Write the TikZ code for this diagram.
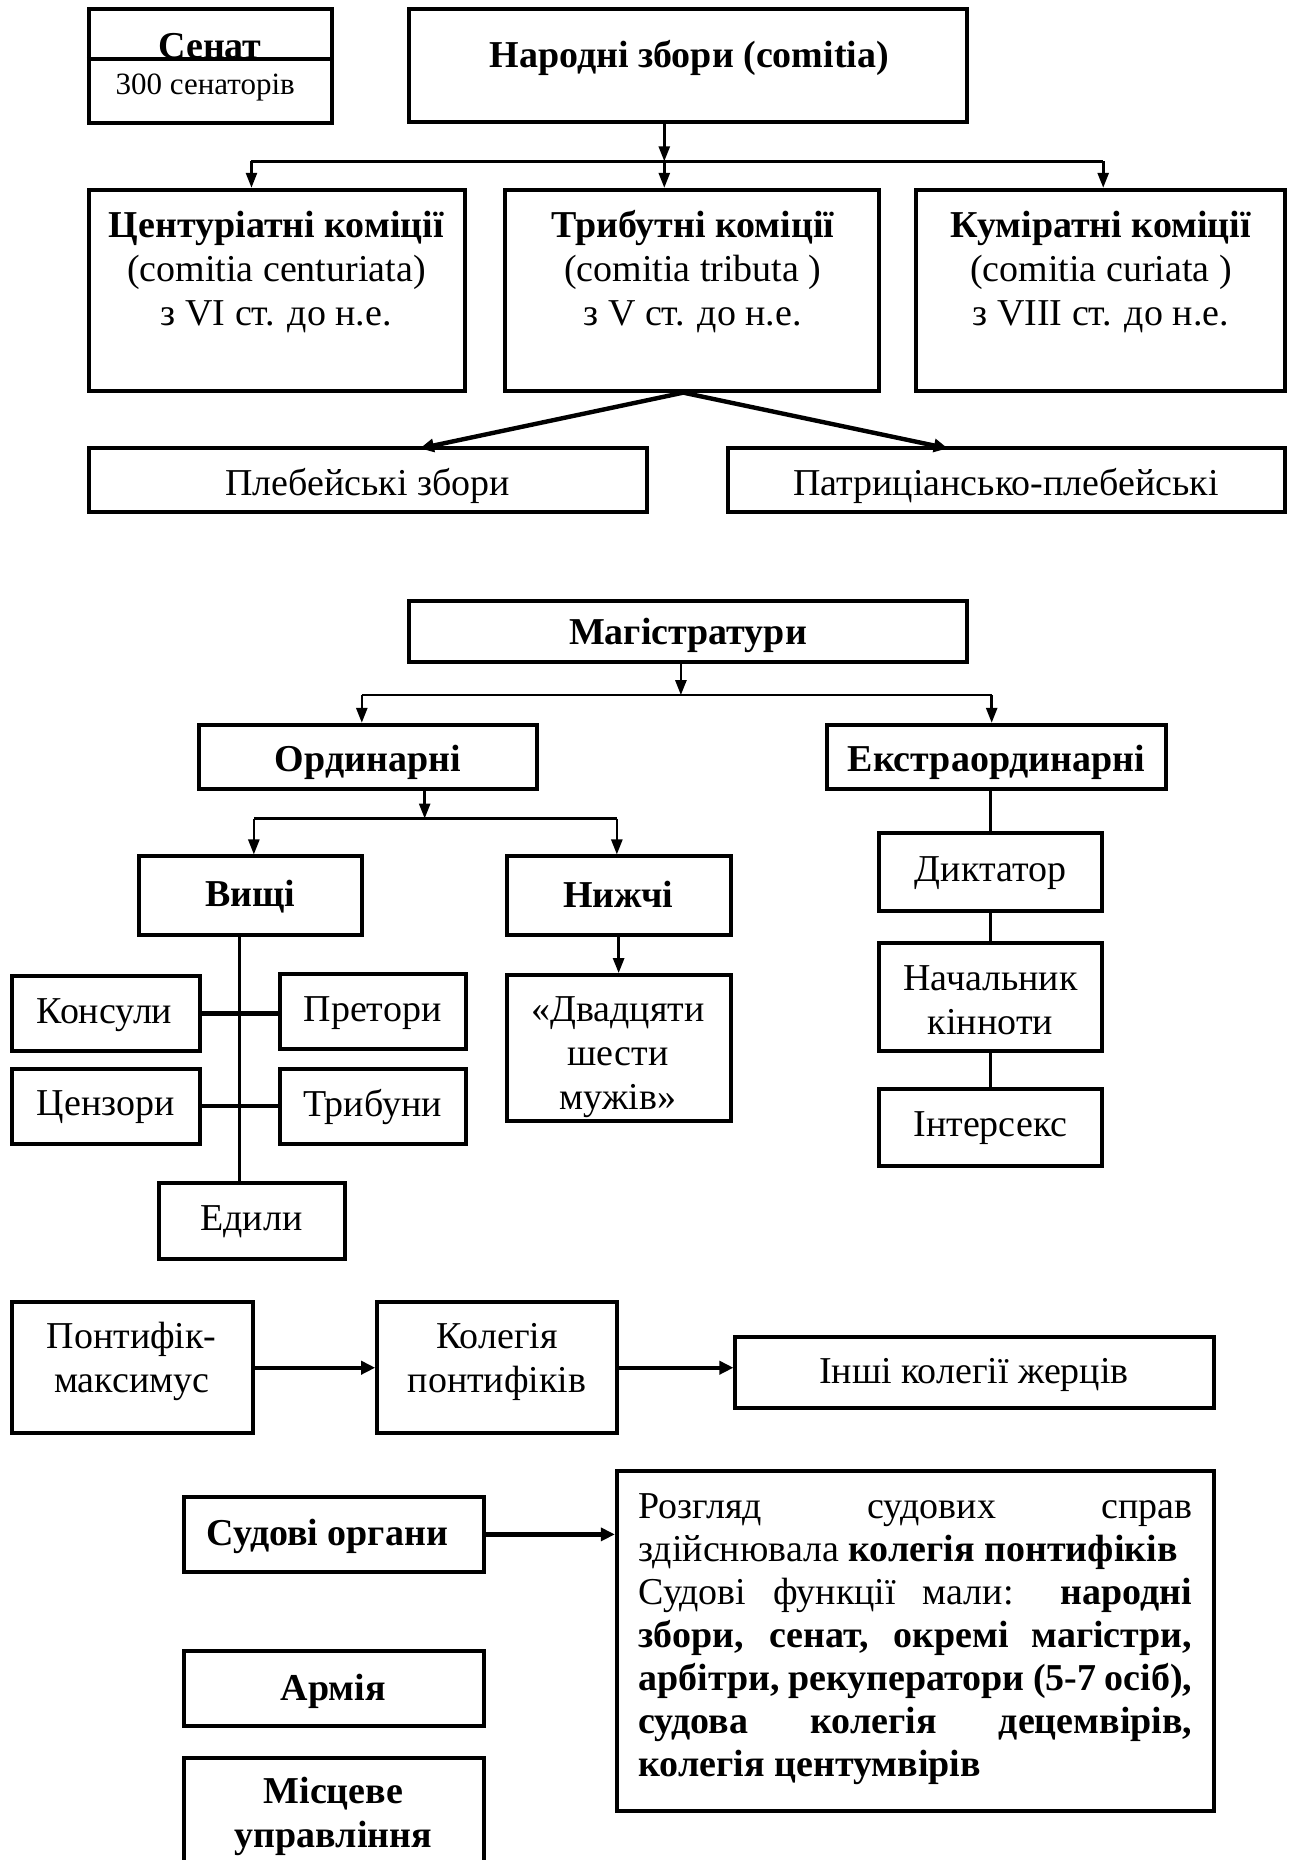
\documentclass[tikz,border=0pt]{standalone}
\usepackage{fontspec}
\setmainfont{Liberation Serif}
\usetikzlibrary{arrows.meta,fit,calc}
\begin{document}
\begin{tikzpicture}[x=0.5934pt,y=-0.5934pt,
  every node/.style={font=\fontsize{19pt}{22pt}\selectfont},
  bx/.style={draw, line width=2pt, inner sep=0pt},
  bft/.style={font=\fontsize{19pt}{22pt}\selectfont\bfseries},
  conn/.style={line width=1.3pt},
  arr/.style={conn, -{Triangle[length=7.5pt,width=5.5pt]}},
  thk/.style={line width=2.2pt},
  thkarr/.style={thk, -{Triangle[length=7pt,width=6.5pt]}},
  tx/.style={inner sep=0pt, align=center}
]
\useasboundingbox (0,0) rectangle (1087,1568);
\clip (0,0) rectangle (1087,1568);
\fill[white] (0,0) rectangle (1087,1568);

% ---------- Senate and assemblies ----------
\node[bx, fit={(75,8) (280,104)}] (senat) {};
\draw[line width=2pt] ($(senat.north west)!0.4375!(senat.south west)$) -- ($(senat.north east)!0.4375!(senat.south east)$);
\node[bft, anchor=base, inner sep=0pt] (senatT) at (177,49) {Сенат};
\node[anchor=base, inner sep=0pt, font=\fontsize{15.5pt}{18pt}\selectfont] (senatN) at (173,80) {300 сенаторів};

\node[bx, fit={(345,8) (815,103)}] (nz) {};
\node[bft, anchor=base, inner sep=0pt] (nzT) at (581,57) {Народні збори (comitia)};

\node[bx, fit={(75,160) (392,330)}] (cent) {};
\node[tx] (centT) at (233,229) {\textbf{Центуріатні коміції}\\(comitia centuriata)\\з VI ст. до н.е.};
\node[bx, fit={(426,160) (741,330)}] (trib) {};
\node[tx] (tribT) at (584,229) {\textbf{Трибутні коміції}\\(comitia tributa )\\з V ст. до н.е.};
\node[bx, fit={(772,160) (1083,330)}] (kur) {};
\node[tx] (kurT) at (928,229) {\textbf{Куміратні коміції}\\(comitia curiata )\\з VIII ст. до н.е.};

\coordinate (j1) at (560,136);
\coordinate (j1l) at (212,136);
\coordinate (j1r) at (930,136);
\draw[arr] (nz.south -| j1) -- (j1);
\draw[conn] (j1l) -- (j1r);
\draw[arr] (j1l) -- (j1l |- cent.north);
\draw[arr] (j1) -- (j1 |- trib.north);
\draw[arr] (j1r) -- (j1r |- kur.north);

\node[bx, fit={(75,378) (545,432)}] (pleb) {};
\node[tx] (plebT) at (310,410) {Плебейські збори};
\node[bx, fit={(614,378) (1083,432)}] (patr) {};
\node[tx] (patrT) at (848,410) {Патриціансько-плебейські};
\coordinate (t0) at (576,331);
\coordinate (plT) at (354,378);
\coordinate (paT) at (799,378);
\draw[thkarr] (t0) -- (plT);
\draw[thkarr] (t0) -- (paT);

% ---------- Magistracies ----------
\node[bx, fit={(345,507) (815,558)}] (mag) {};
\node[tx, bft] (magT) at (580,536) {Магістратури};
\coordinate (j2) at (574,586);
\coordinate (j2l) at (305,586);
\coordinate (j2r) at (836,586);
\draw[arr] (mag.south -| j2) -- (j2);
\draw[conn] (j2l) -- (j2r);
\node[bx, fit={(168,611) (453,665)}] (ord) {};
\node[tx, bft] (ordT) at (310,643) {Ординарні};
\node[bx, fit={(697,611) (983,665)}] (ext) {};
\node[tx, bft] (extT) at (840,643) {Екстраординарні};
\draw[arr] (j2l) -- (j2l |- ord.north);
\draw[arr] (j2r) -- (j2r |- ext.north);

\coordinate (j3) at (358,690);
\coordinate (j3l) at (214,690);
\coordinate (j3r) at (520,690);
\node[bx, fit={(117,722) (305,788)}] (vys) {};
\node[tx, bft] (vysT) at (211,756) {Вищі};
\node[bx, fit={(427,722) (616,788)}] (nyz) {};
\node[tx, bft] (nyzT) at (521,754) {Нижчі};
\draw[arr] (ord.south -| j3) -- (j3);
\draw[conn] (j3l) -- (j3r);
\draw[arr] (j3l) -- (j3l |- vys.north);
\draw[arr] (j3r) -- (j3r |- nyz.north);

\node[bx, fit={(741,702) (929,768)}] (dykt) {};
\node[tx] (dyktT) at (835,736) {Диктатор};
\node[bx, fit={(741,795) (929,886)}] (nach) {};
\node[tx] (nachT) at (835,843) {Начальник\\кінноти};
\node[bx, fit={(741,918) (929,983)}] (inter) {};
\node[tx] (interT) at (835,951) {Інтерсекс};
\draw[conn] (ext.south -| dykt.north) -- (dykt.north);
\draw[conn] (dykt.south) -- (nach.north);
\draw[conn] (nach.south) -- (inter.north);

\node[bx, fit={(10,823) (169,886)}] (kons) {};
\node[tx] (konsT) at (88,856) {Консули};
\node[bx, fit={(236,821) (393,884)}] (pret) {};
\node[tx] (pretT) at (314,854) {Претори};
\node[bx, fit={(10,901) (169,964)}] (cenz) {};
\node[tx] (cenzT) at (89,933) {Цензори};
\node[bx, fit={(236,901) (393,964)}] (tryb) {};
\node[tx] (trybT) at (314,933) {Трибуни};
\node[bx, fit={(134,997) (291,1061)}] (edyl) {};
\node[tx] (edylT) at (212,1030) {Едили};
\coordinate (vx) at (202,788);
\draw[conn] (vys.south -| vx) -- (vx |- edyl.north);
\draw[thk] (kons.east) -- (pret.west |- kons.east);
\draw[thk] (cenz.east) -- (tryb.west |- cenz.east);

\node[bx, fit={(427,822) (616,945)}] (dvad) {};
\node[tx] (dvadT) at (521,891) {«Двадцяти\\шести\\мужів»};
\draw[arr] (nyz.south -| dvad.north) -- (dvad.north);

% ---------- Priests ----------
\node[bx, fit={(10,1098) (213,1208)}] (pont) {};
\node[tx] (pontT) at (111,1148) {Понтифік-\\максимус};
\node[bx, fit={(318,1098) (520,1208)}] (koleg) {};
\node[tx] (kolegT) at (419,1148) {Колегія\\понтифіків};
\node[bx, fit={(620,1127) (1023,1187)}] (inshi) {};
\node[tx] (inshiT) at (821,1159) {Інші колегії жерців};
\draw[thkarr] (pont.east) -- (koleg.west);
\draw[thkarr] (koleg.east) -- (inshi.west |- koleg.east);

% ---------- Courts, army, local government ----------
\node[bx, fit={(155,1262) (408,1325)}] (sud) {};
\node[tx, bft] (sudT) at (276,1295) {Судові органи};
\node[bx, fit={(520,1240) (1023,1527)}] (txtbox) {};
\node[anchor=base west, inner sep=0pt] (txtT) at (538,1280) {\parbox[t]{277pt}{\fontsize{19pt}{21.5pt}\selectfont\noindent
\makebox[\linewidth][s]{Розгляд судових справ}\\
здійснювала \textbf{колегія понтифіків}\\
\makebox[\linewidth][s]{Судові функції мали: \textbf{народні}}\\
\makebox[\linewidth][s]{\textbf{збори, сенат, окремі магістри,}}\\
\makebox[\linewidth][s]{\textbf{арбітри, рекуператори (5-7 осіб),}}\\
\makebox[\linewidth][s]{\textbf{судова колегія децемвірів,}}\\
\textbf{колегія центумвірів}}};
\draw[thkarr] (sud.east) -- (txtbox.west |- sud.east);

\node[bx, fit={(155,1392) (408,1455)}] (armia) {};
\node[tx, bft] (armiaT) at (281,1426) {Армія};
\node[bx, fit={(155,1482) (408,1600)}] (misc) {};
\node[tx, bft] (miscT) at (281,1531) {Місцеве\\управління};
\end{tikzpicture}
\end{document}
